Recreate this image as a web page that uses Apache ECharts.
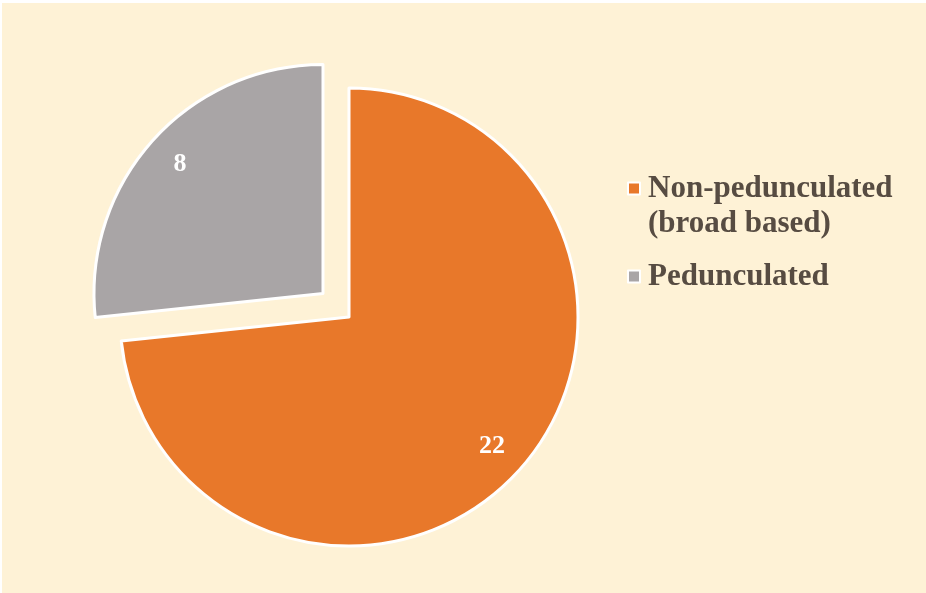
<!DOCTYPE html>
<html>
<head>
<meta charset="utf-8">
<script src="https://cdn.jsdelivr.net/npm/echarts@6/dist/echarts.min.js"></script>
<style>
html,body{margin:0;padding:0;background:#ffffff;width:926px;height:593px;overflow:hidden;}
#chart{position:absolute;left:2px;top:3px;width:924px;height:590px;}
</style>
</head>
<body>
<div id="chart"></div>
<script>
const categories = ['Non-pedunculated (broad based)', 'Pedunculated'];
const legendLabels = ['\nNon-pedunculated\n(broad based)', 'Pedunculated'];
const values = [22, 8];
const colors = ['#e8782a', '#a9a5a6'];
const explodedIndex = 1;

const chart = echarts.init(document.getElementById('chart'));
const font = '"Liberation Serif", "Times New Roman", serif';

const pieData = categories.map((n, i) => ({
  name: n, value: values[i], selected: i === explodedIndex,
  itemStyle: { color: colors[i] }
}));
const labelData = categories.map((n, i) => ({
  name: n, value: values[i], selected: i === explodedIndex
}));

const legendText = { fontFamily: font, fontWeight: 'bold', fontSize: 31, color: '#574c42', lineHeight: 35, padding: [0, 0, 0, 3] };

chart.setOption({
  backgroundColor: '#fef2d6',
  animation: false,
  legend: [
    {
      orient: 'vertical', left: 620, top: 128,
      itemWidth: 12, itemHeight: 12, icon: 'rect',
      data: [categories[0]],
      textStyle: legendText,
      formatter: () => legendLabels[0],
      selectedMode: false
    },
    {
      orient: 'vertical', left: 620, top: 251,
      itemWidth: 12, itemHeight: 12, icon: 'rect',
      data: [categories[1]],
      textStyle: legendText,
      formatter: () => legendLabels[1],
      selectedMode: false
    }
  ],
  series: [
    {
      type: 'pie',
      center: [347, 314],
      radius: [0, 229],
      startAngle: 90,
      clockwise: true,
      selectedMode: 'single',
      selectedOffset: 35,
      itemStyle: { borderColor: '#ffffff', borderWidth: 3 },
      label: { show: false },
      labelLine: { show: false },
      emphasis: { disabled: true },
      data: pieData
    },
    {
      type: 'pie',
      center: [347, 314],
      radius: [150, 229],
      startAngle: 90,
      clockwise: true,
      selectedMode: 'single',
      selectedOffset: 35,
      silent: true,
      itemStyle: { color: 'rgba(0,0,0,0)', borderWidth: 0 },
      label: {
        show: true, position: 'inside',
        formatter: '{c}',
        color: '#ffffff', fontFamily: font, fontWeight: 'bold', fontSize: 26
      },
      labelLine: { show: false },
      emphasis: { disabled: true },
      data: labelData
    }
  ]
});
</script>
</body>
</html>
